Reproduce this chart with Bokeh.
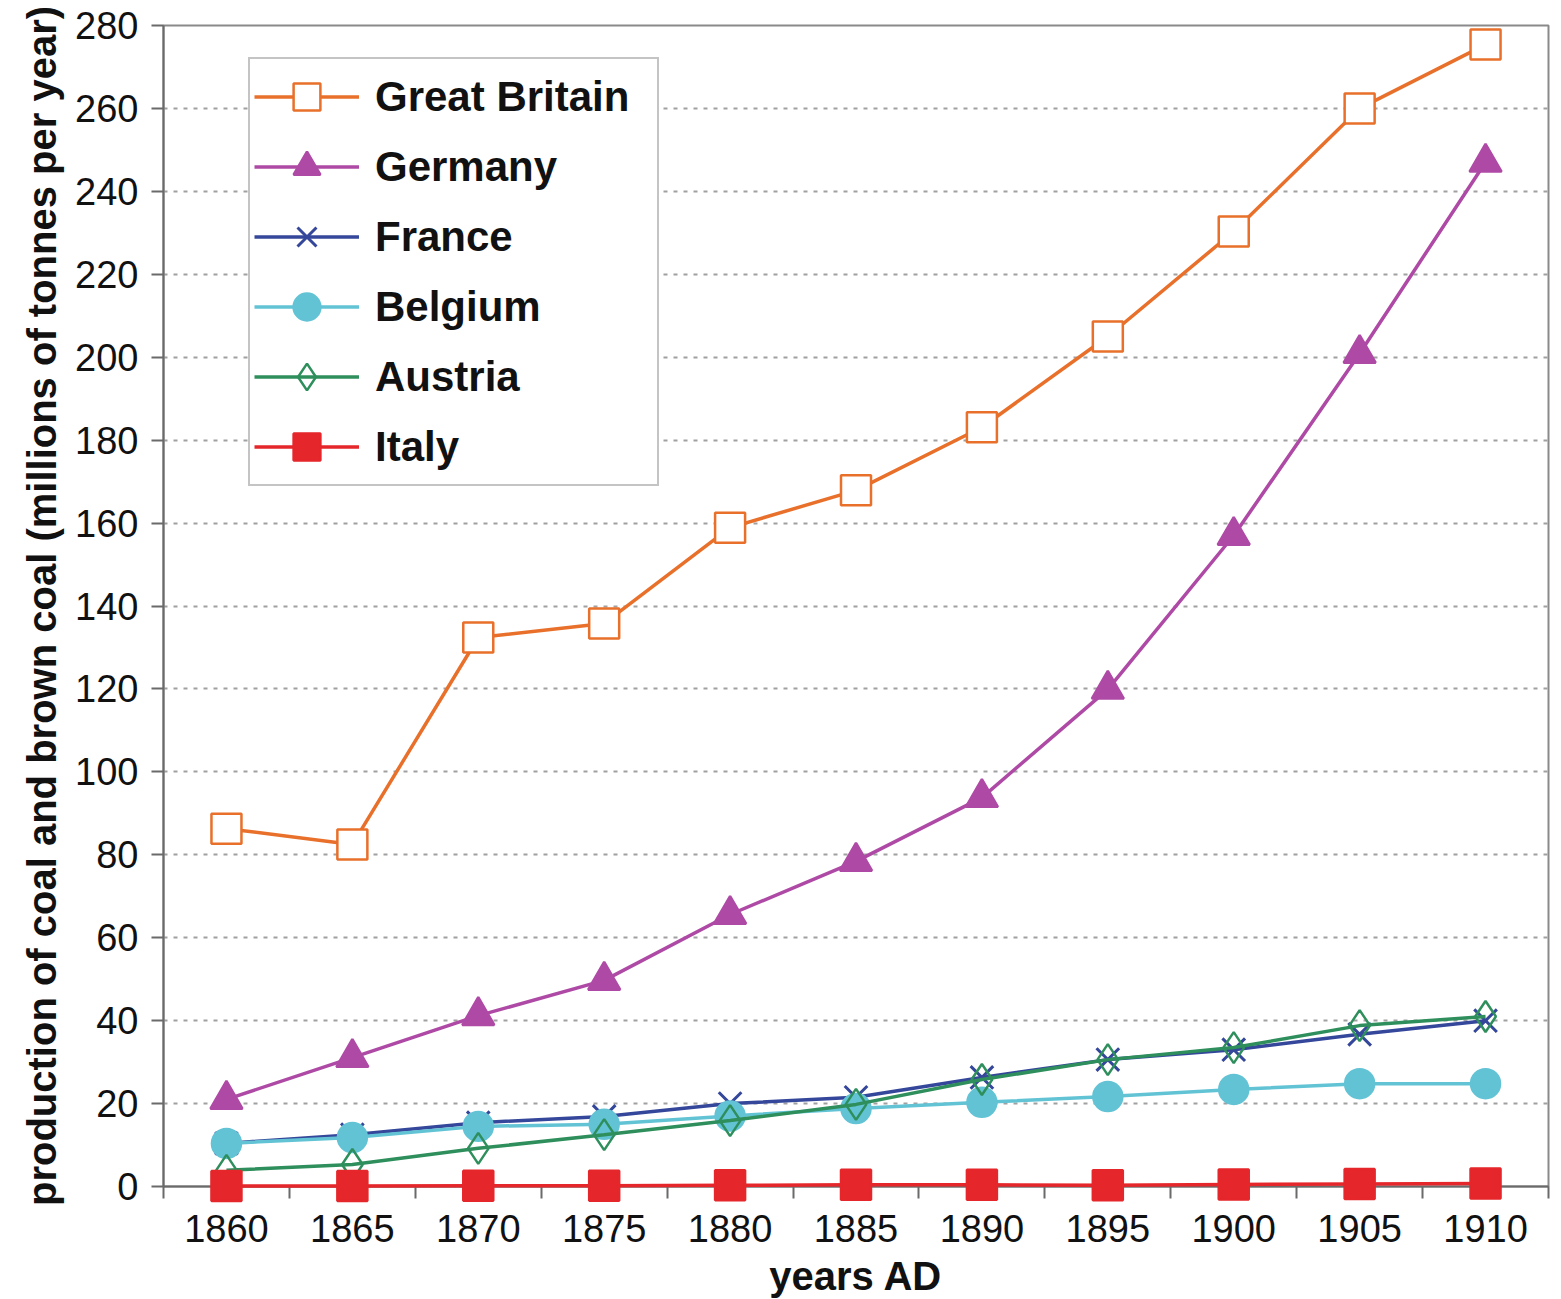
from bokeh.plotting import figure
from bokeh.models import FixedTicker, Range1d, Legend, LegendItem
from bokeh.embed import file_html
from bokeh.resources import INLINE

years = [1860, 1865, 1870, 1875, 1880, 1885, 1890, 1895, 1900, 1905, 1910]
great_britain = [86.3, 82.5, 132.4, 135.8, 158.9, 167.9, 183.1, 205.0, 230.3, 260.0, 275.4]
germany = [21.0, 31.1, 41.2, 49.7, 65.6, 78.4, 93.8, 119.9, 157.0, 200.9, 247.0]
france = [10.4, 12.5, 15.4, 16.9, 20.0, 21.5, 26.3, 30.6, 33.0, 36.7, 40.0]
belgium = [10.4, 11.8, 14.5, 15.0, 17.0, 18.8, 20.3, 21.7, 23.4, 24.8, 24.8]
austria = [3.9, 5.3, 9.2, 12.5, 15.9, 19.8, 25.8, 30.6, 33.5, 38.8, 41.0]
italy = [0.1, 0.1, 0.2, 0.2, 0.3, 0.4, 0.4, 0.3, 0.5, 0.6, 0.7]
y_ticks = [0, 20, 40, 60, 80, 100, 120, 140, 160, 180, 200, 220, 240, 260, 280]
grid_ticks = [20, 40, 60, 80, 100, 120, 140, 160, 180, 200, 220, 240, 260]

FONT = "Liberation Sans"

p = figure(frame_width=1385, frame_height=1161, output_backend="svg", toolbar_location=None,
           x_range=Range1d(1857.5, 1912.5), y_range=Range1d(0, 280),
           min_border_left=163, min_border_right=8, min_border_top=25, min_border_bottom=110)

p.outline_line_color = "#8a8a8a"
p.outline_line_width = 2
p.background_fill_color = "white"
p.border_fill_color = "white"

# x axis
minor = [1857.5 + 5 * i for i in range(12)]
p.xaxis.ticker = FixedTicker(ticks=years, minor_ticks=minor)
p.xaxis.major_tick_out = 0
p.xaxis.major_tick_in = 0
p.xaxis.minor_tick_out = 12
p.xaxis.minor_tick_in = 0
p.xaxis.minor_tick_line_color = "#6a6a6a"
p.xaxis.minor_tick_line_width = 2
p.xaxis.axis_line_color = "#6a6a6a"
p.xaxis.axis_line_width = 2
p.xaxis.major_label_text_font = FONT
p.xaxis.major_label_text_font_size = "38px"
p.xaxis.major_label_text_color = "#111111"
p.xaxis.major_label_standoff = 16
p.xaxis.axis_label = "years AD"
p.xaxis.axis_label_text_font = FONT
p.xaxis.axis_label_text_font_style = "bold"
p.xaxis.axis_label_text_font_size = "40px"
p.xaxis.axis_label_text_color = "#111111"
p.xaxis.axis_label_standoff = 9

# y axis
p.yaxis.ticker = FixedTicker(ticks=y_ticks)
p.yaxis.major_tick_out = 12
p.yaxis.major_tick_in = 0
p.yaxis.minor_tick_out = 0
p.yaxis.minor_tick_in = 0
p.yaxis.major_tick_line_color = "#6a6a6a"
p.yaxis.major_tick_line_width = 2
p.yaxis.axis_line_color = "#6a6a6a"
p.yaxis.axis_line_width = 2
p.yaxis.major_label_text_font = FONT
p.yaxis.major_label_text_font_size = "38px"
p.yaxis.major_label_text_color = "#111111"
p.yaxis.major_label_standoff = 13
p.yaxis.axis_label = "production of coal and brown coal (millions of tonnes per year)"
p.yaxis.axis_label_text_font = FONT
p.yaxis.axis_label_text_font_style = "bold"
p.yaxis.axis_label_text_font_size = "40px"
p.yaxis.axis_label_text_color = "#111111"
p.yaxis.axis_label_standoff = 8

p.xgrid.visible = False
p.ygrid.ticker = FixedTicker(ticks=grid_ticks)
p.ygrid.grid_line_color = "#a0a0a0"
p.ygrid.grid_line_width = 2
p.ygrid.grid_line_dash = "4 6"

series = [
    ("Great Britain", great_britain, "#E8702A", "square", "white", 30, 3.5, 2.5, "glyph"),
    ("Germany", germany, "#AE4AA5", "triangle", "#AE4AA5", 32, 3.5, 2.5, "glyph"),
    ("France", france, "#34479A", "x", None, 32, 3.5, 3, "glyph"),
    ("Belgium", belgium, "#62C3D5", "circle", "#62C3D5", 29, 3.5, 2.5, "glyph"),
    ("Austria", austria, "#2E8F5C", "diamond", None, 31, 3.5, 2.5, "glyph"),
    ("Italy", italy, "#E5262A", "square", "#E5262A", 30, 3.5, 2.5, "overlay"),
]

items = []
for name, vals, color, marker, fill, size, lw, mlw, lvl in series:
    lr = p.line(years, vals, line_color=color, line_width=lw, level=lvl)
    if fill is None:
        sr = p.scatter(years, vals, marker=marker, size=size, line_color=color,
                       fill_alpha=0, line_width=mlw, level=lvl)
    else:
        sr = p.scatter(years, vals, marker=marker, size=size, line_color=color,
                       fill_color=fill, line_width=mlw, level=lvl)
    items.append(LegendItem(label=name, renderers=[lr, sr]))

legend = Legend(items=items, location=(85, 700))
legend.label_text_font = FONT
legend.label_text_font_style = "bold"
legend.label_text_font_size = "42px"
legend.label_text_color = "#111111"
legend.border_line_color = "#8a8a8a"
legend.border_line_width = 2
legend.background_fill_alpha = 1
legend.padding = 4
legend.spacing = 3
legend.glyph_width = 105
legend.glyph_height = 67
legend.label_height = 40
legend.label_width = 278
legend.label_standoff = 16
legend.margin = 0
p.add_layout(legend, "center")

open("out.html", "w").write(file_html(p, INLINE))
